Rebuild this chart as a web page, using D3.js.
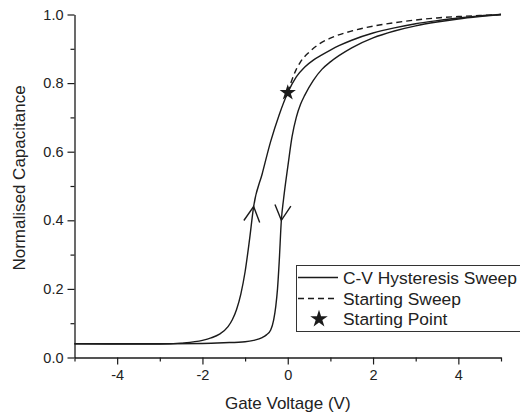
<!DOCTYPE html>
<html>
<head>
<meta charset="utf-8">
<script src="https://cdn.jsdelivr.net/npm/d3@7"></script>
<style>
  html, body { margin: 0; padding: 0; background: #fff; }
  svg { display: block; font-family: "Liberation Sans", Arial, sans-serif; }
</style>
</head>
<body>
<svg id="chart" width="520" height="415"></svg>
<script>
// Forward sweep (-5 V to +5 V): gate voltage and normalised capacitance
const upVoltage = [-5, -4, -3, -2.5, -2.0, -1.8, -1.6, -1.4, -1.3, -1.2, -1.1, -1.0, -0.9, -0.8,
  -0.6, -0.4, -0.2, 0, 0.2, 0.4, 0.6, 0.8, 1.0, 1.2, 1.5, 2.0, 2.5, 3.0, 3.5, 4.0, 4.5, 5.0];
const upCap = [0.040, 0.039, 0.039, 0.042, 0.050, 0.057, 0.068, 0.090, 0.110, 0.140, 0.185, 0.250, 0.340, 0.440,
  0.535, 0.630, 0.708, 0.772, 0.818, 0.847, 0.867, 0.882, 0.896, 0.909, 0.925, 0.946, 0.961, 0.973, 0.982, 0.990, 0.996, 1.0];

// Reverse sweep (+5 V to -5 V), listed in ascending voltage
const downVoltage = [-5, -4, -3, -2, -1.5, -1.0, -0.8, -0.6, -0.5, -0.4, -0.33, -0.28, -0.24, -0.2, -0.15,
  -0.1, -0.05, 0, 0.1, 0.2, 0.3, 0.4, 0.6, 0.8, 1.0, 1.2, 1.5, 2.0, 2.5, 3.0, 3.5, 4.0, 4.5, 5.0];
const downCap = [0.040, 0.040, 0.040, 0.041, 0.043, 0.046, 0.050, 0.058, 0.066, 0.080, 0.110, 0.150, 0.200, 0.280, 0.400,
  0.460, 0.510, 0.555, 0.643, 0.700, 0.738, 0.765, 0.808, 0.840, 0.862, 0.880, 0.903, 0.932, 0.952, 0.967, 0.978, 0.987, 0.994, 1.0];

// Initial sweep from 0 V up to +5 V
const startVoltage = [0, 0.1, 0.2, 0.3, 0.5, 0.75, 1.0, 1.5, 2.0, 2.5, 3.0, 3.5, 4.0, 4.5, 5.0];
const startCap = [0.772, 0.81, 0.84, 0.862, 0.89, 0.915, 0.931, 0.952, 0.966, 0.976, 0.984, 0.99, 0.994, 0.997, 1.0];

// Starting point of the measurement
const startPoint = [0, 0.772];

// Sweep-direction arrows: voltage of arrow tip on each branch
const upArrowV = -0.8;
const downArrowV = -0.15;

// Axis ticks
const xMajor = [-4, -2, 0, 2, 4];
const xMinor = [-5, -3, -1, 1, 3, 5];
const yMajor = [0.0, 0.2, 0.4, 0.6, 0.8, 1.0];
const yMinor = [0.1, 0.3, 0.5, 0.7, 0.9];

const legendLabels = ["C-V Hysteresis Sweep", "Starting Sweep", "Starting Point"];
const xTitle = "Gate Voltage (V)";
const yTitle = "Normalised Capacitance";

const ink = "#1b1b1b";
const svg = d3.select("#chart");

const x = d3.scaleLinear().domain([-5, 5]).range([74.5, 501]);
const y = d3.scaleLinear().domain([0, 1]).range([357.5, 14.5]);

// Axes
const gx = svg.append("g").attr("transform", `translate(0,${y(0)})`);
gx.call(d3.axisBottom(x).tickValues(xMinor).tickSize(4).tickSizeOuter(0).tickFormat(""));
gx.call(g => g.select(".domain").remove());
svg.append("g").attr("transform", `translate(0,${y(0)})`)
  .call(d3.axisBottom(x).tickValues(xMajor).tickSize(7).tickSizeOuter(0).tickPadding(5).tickFormat(d => String(d)));

const gy = svg.append("g").attr("transform", `translate(${x(-5)},0)`);
gy.call(d3.axisLeft(y).tickValues(yMinor).tickSize(4).tickSizeOuter(0).tickFormat(""));
gy.call(g => g.select(".domain").remove());
svg.append("g").attr("transform", `translate(${x(-5)},0)`)
  .call(d3.axisLeft(y).tickValues(yMajor).tickSize(7).tickSizeOuter(0).tickPadding(4).tickFormat(d3.format(".1f")));

svg.selectAll(".domain").attr("stroke", ink).attr("stroke-width", 1.3);
svg.selectAll(".tick line").attr("stroke", ink).attr("stroke-width", 1.2);
svg.selectAll(".tick text").attr("fill", "#222").style("font-size", "14.5px")
  .style("font-family", "'Liberation Sans', Arial, sans-serif");

// Axis titles
svg.append("text")
  .attr("x", (x(-5) + x(5)) / 2).attr("y", 409)
  .attr("text-anchor", "middle").attr("fill", "#222")
  .style("font-size", "17px").text(xTitle);
svg.append("text")
  .attr("transform", `translate(24.5,178) rotate(-90)`)
  .attr("text-anchor", "middle").attr("fill", "#222")
  .style("font-size", "17px").text(yTitle);

// Curves
const line = d3.line().x(d => x(d[0])).y(d => y(d[1])).curve(d3.curveMonotoneX);
const upData = d3.zip(upVoltage, upCap);
const downData = d3.zip(downVoltage, downCap);
const startData = d3.zip(startVoltage, startCap);

svg.append("path").datum(upData).attr("d", line)
  .attr("fill", "none").attr("stroke", ink).attr("stroke-width", 1.4);
svg.append("path").datum(downData).attr("d", line)
  .attr("fill", "none").attr("stroke", ink).attr("stroke-width", 1.4);
svg.append("path").datum(startData).attr("d", line)
  .attr("fill", "none").attr("stroke", ink).attr("stroke-width", 1.4)
  .attr("stroke-dasharray", "6,4");

// Open chevron arrowheads showing the sweep direction
function chevron(data, v, travelSign) {
  const i = data.findIndex(d => d[0] === v);
  const tip = data[i];
  const prev = data[i - travelSign]; // point the sweep comes from
  const tx = x(tip[0]), ty = y(tip[1]);
  const ang = Math.atan2(y(prev[1]) - ty, x(prev[0]) - tx);
  const len = 17, spread = 28 * Math.PI / 180;
  const p1 = [tx + len * Math.cos(ang - spread), ty + len * Math.sin(ang - spread)];
  const p2 = [tx + len * Math.cos(ang + spread), ty + len * Math.sin(ang + spread)];
  svg.append("path")
    .attr("d", `M${p1[0]},${p1[1]}L${tx},${ty}L${p2[0]},${p2[1]}`)
    .attr("fill", "none").attr("stroke", ink).attr("stroke-width", 1.4);
}
chevron(upData, upArrowV, 1);     // forward sweep travels towards higher voltage
chevron(downData, downArrowV, -1); // reverse sweep travels towards lower voltage

// Starting point marker
const star = d3.symbol().type(d3.symbolStar).size(82);
svg.append("path").attr("d", star())
  .attr("transform", `translate(${x(startPoint[0])},${y(startPoint[1])})`)
  .attr("fill", ink);

// Legend
const lg = svg.append("g");
lg.append("rect").attr("x", 296.5).attr("y", 265.5).attr("width", 240).attr("height", 66)
  .attr("fill", "#fff").attr("stroke", "#333").attr("stroke-width", 1);
const rowY = [277.5, 298.5, 319];
lg.append("line").attr("x1", 298).attr("x2", 338).attr("y1", rowY[0]).attr("y2", rowY[0])
  .attr("stroke", ink).attr("stroke-width", 1.4);
lg.append("line").attr("x1", 298).attr("x2", 338).attr("y1", rowY[1]).attr("y2", rowY[1])
  .attr("stroke", ink).attr("stroke-width", 1.4).attr("stroke-dasharray", "6,4");
lg.append("path").attr("d", d3.symbol().type(d3.symbolStar).size(95)())
  .attr("transform", `translate(319,${rowY[2]})`).attr("fill", ink);
lg.selectAll("text.lbl").data(legendLabels).join("text")
  .attr("class", "lbl")
  .attr("x", 343).attr("y", (d, i) => rowY[i])
  .attr("dy", "0.36em").attr("fill", "#222")
  .style("font-size", "17.4px").text(d => d);
</script>
</body>
</html>
